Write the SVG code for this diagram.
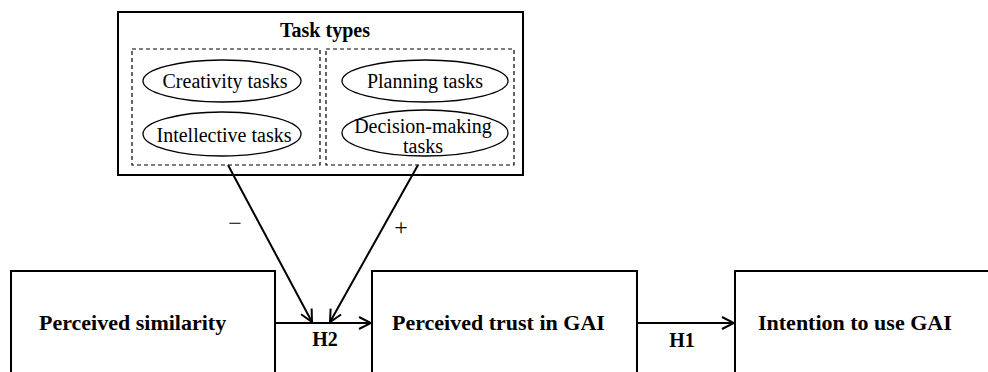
<svg xmlns="http://www.w3.org/2000/svg" width="988" height="372" viewBox="0 0 988 372">
<defs>
<style>
.box{fill:#fff;stroke:#000;stroke-width:2}
.dash{fill:none;stroke:#000;stroke-width:1.2;stroke-dasharray:4 3}
.ell{fill:#fff;stroke:#000;stroke-width:1.3}
.t{font-family:"Liberation Serif","Times New Roman",serif;font-size:20px;fill:#000}
.b{font-family:"Liberation Serif","Times New Roman",serif;font-size:22px;font-weight:bold;fill:#000}
.bs{font-family:"Liberation Serif","Times New Roman",serif;font-size:20px;font-weight:bold;fill:#000}
.sg{font-family:"Liberation Serif","Times New Roman",serif;font-size:24px;fill:#000}
.c{fill:none;stroke:#000;stroke-width:2}
</style>
<marker id="arr" markerUnits="userSpaceOnUse" markerWidth="16" markerHeight="16" viewBox="-14 -8 16 16" refX="0" refY="0" orient="auto">
<path d="M-12,-6 L0,0 L-12,6" fill="none" stroke="#000" stroke-width="2"/>
</marker>
</defs>
<rect width="988" height="372" fill="#fff"/>
<g id="task-types">
<rect class="box" x="118" y="12" width="405" height="163"/>
<text class="bs" x="325" y="37" text-anchor="middle">Task types</text>
<rect class="dash" x="132" y="49" width="188" height="116"/>
<rect class="dash" x="326" y="49" width="188" height="116"/>
<g id="creativity">
<ellipse class="ell" cx="222" cy="81" rx="79" ry="21"/>
<text class="t" x="225" y="88" text-anchor="middle">Creativity tasks</text>
</g>
<g id="intellective">
<ellipse class="ell" cx="222" cy="134" rx="79" ry="22"/>
<text class="t" x="224" y="142" text-anchor="middle">Intellective tasks</text>
</g>
<g id="planning">
<ellipse class="ell" cx="425" cy="81" rx="83" ry="21"/>
<text class="t" x="425" y="88" text-anchor="middle">Planning tasks</text>
</g>
<g id="decision">
<ellipse class="ell" cx="425" cy="133" rx="83" ry="23"/>
<text class="t" x="423" y="133" text-anchor="middle">Decision-making</text>
<text class="t" x="423" y="153" text-anchor="middle">tasks</text>
</g>
</g>
<g id="similarity">
<rect class="box" x="11" y="271" width="264" height="120"/>
<text class="b" x="39" y="330">Perceived similarity</text>
</g>
<g id="trust">
<rect class="box" x="372" y="271" width="265" height="120"/>
<text class="b" x="392" y="330">Perceived trust in GAI</text>
</g>
<g id="intention">
<rect class="box" x="735" y="271" width="280" height="120"/>
<text class="b" x="758" y="330">Intention to use GAI</text>
</g>
<g id="connectors">
<line class="c" x1="275" y1="323" x2="371" y2="323" marker-end="url(#arr)"/>
<line class="c" x1="637" y1="323" x2="734" y2="323" marker-end="url(#arr)"/>
<line class="c" x1="228" y1="165" x2="312" y2="322" marker-end="url(#arr)"/>
<line class="c" x1="418" y1="165" x2="330" y2="322" marker-end="url(#arr)"/>
<text class="bs" x="325" y="346" text-anchor="middle">H2</text>
<text class="bs" x="682" y="347" text-anchor="middle">H1</text>
<text class="sg" x="235" y="231" text-anchor="middle">−</text>
<text class="sg" x="401" y="235" text-anchor="middle">+</text>
</g>
</svg>
